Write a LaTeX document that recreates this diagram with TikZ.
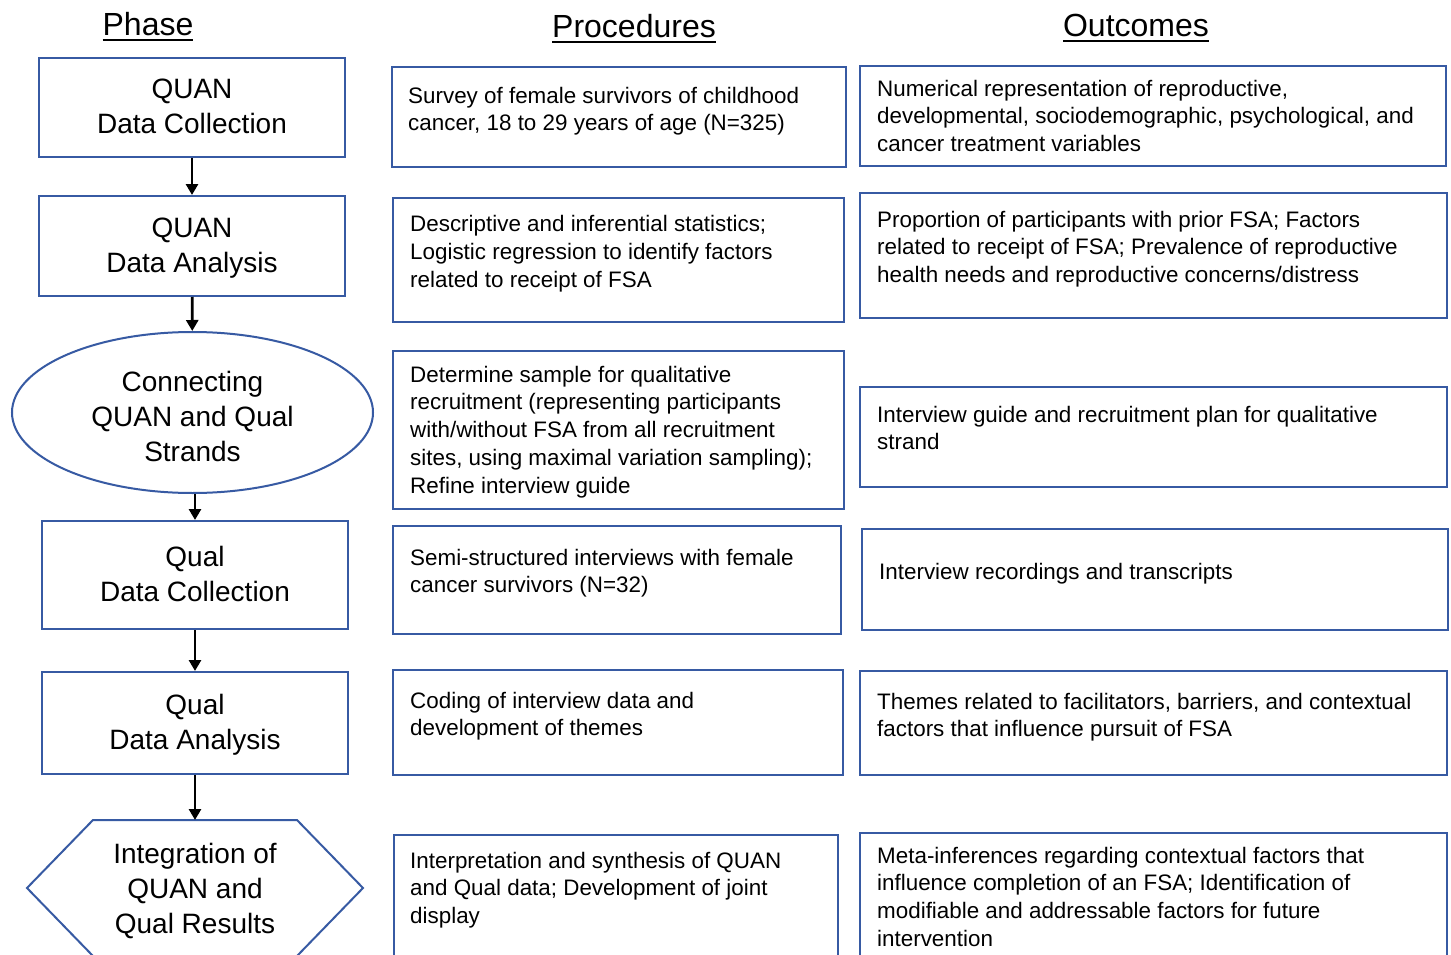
\documentclass[tikz,border=0pt]{standalone}
\usepackage{fontspec}
\setmainfont{Liberation Sans}
\usetikzlibrary{shapes.geometric,arrows.meta,calc}
\definecolor{boxblue}{RGB}{55,90,163}
\newcommand{\bodyfs}{\fontsize{22.4}{27.7}\selectfont}
\newcommand{\phasefs}{\fontsize{28}{35}\selectfont}
\newcommand{\headfs}{\fontsize{32}{38}\selectfont}
\newcommand{\tstrut}{\rule{0pt}{19.4pt}}
\newsavebox{\hulbox}
\newcommand{\hul}[1]{\sbox{\hulbox}{#1}\rlap{\raisebox{-5.3pt}{\rule{\wd\hulbox}{2pt}}}\usebox{\hulbox}}
\begin{document}
\begin{tikzpicture}[x=1pt,y=-1pt,
  box/.style={draw=boxblue,line width=2pt,rectangle,inner sep=0pt},
  ptxt/.style={font=\phasefs,align=center},
  btxt/.style={font=\bodyfs,align=left,inner sep=0pt,anchor=north west},
  head/.style={font=\headfs,inner sep=0pt,anchor=base},
  arr/.style={line width=2.8pt,-{Triangle[length=11pt,width=12pt]}}]
\clip (0,0) rectangle (1451,955);
\fill[white] (0,0) rectangle (1451,955);

% headers
\node[head] (hphase) at (148,35.5) {\hul{Phase}};
\node[head] (hproc) at (634,37.5) {\hul{Procedures}};
\node[head] (hout) at (1136,36.5) {\hul{Outcomes}};

% phase column
\node[box,minimum width=306pt,minimum height=99pt] (p1) at (192,107.5) {};
\node[ptxt] (p1t) at (192,106.5) {QUAN\\Data Collection};
\node[box,minimum width=306pt,minimum height=100pt] (p2) at (192,246) {};
\node[ptxt] (p2t) at (192,248) {QUAN\\Data Analysis};
\node[draw=boxblue,line width=2pt,ellipse,inner sep=0pt,minimum width=361pt,minimum height=161pt] (e) at (192.5,412.5) {};
\node[ptxt] (et) at (192.5,416.5) {Connecting\\QUAN and Qual\\Strands};
\node[box,minimum width=306pt,minimum height=108pt] (p4) at (195,575) {};
\node[ptxt] (p4t) at (195,574) {Qual\\Data Collection};
\node[box,minimum width=306pt,minimum height=102pt] (p5) at (195,723) {};
\node[ptxt] (p5t) at (195,725) {Qual\\Data Analysis};
\draw[draw=boxblue,line width=2pt] (93,820) -- (297,820) -- (363,888) -- (297,956) -- (93,956) -- (27,888) -- cycle;
\coordinate (hxtop) at (195,820);
\node[ptxt] (hx) at (195,891) {Integration of\\QUAN and\\Qual Results};

% arrows
\draw[arr] (p1) -- (p2);
\draw[arr] (p2) -- (e);
\draw[arr] (p4.north |- e.south) -- (p4.north);
\draw[arr] (p4) -- (p5);
\draw[arr] (p5) -- (hxtop);

% procedures
\node[box,minimum width=454pt,minimum height=100pt] (r1) at (619,117) {};
\node[box,minimum width=451pt,minimum height=124pt] (r2) at (618.5,260) {};
\node[box,minimum width=451pt,minimum height=158pt] (r3) at (618.5,430) {};
\node[box,minimum width=448pt,minimum height=108pt] (r4) at (617,580) {};
\node[box,minimum width=450pt,minimum height=105pt] (r5) at (618,722.5) {};
\node[box,minimum width=444pt,minimum height=140pt] (r6) at (616,905) {};

\node[btxt] (r1t) at (408,83.6) {\tstrut Survey of female survivors of childhood\\cancer, 18 to 29 years of age (N=325)};
\node[btxt] (r2t) at (410,212.1) {\tstrut Descriptive and inferential statistics;\\Logistic regression to identify factors\\related to receipt of FSA};
\node[btxt] (r3t) at (410,362.6) {\tstrut Determine sample for qualitative\\recruitment (representing participants\\with/without FSA from all recruitment\\sites, using maximal variation sampling);\\Refine interview guide};
\node[btxt] (r4t) at (410,545.6) {\tstrut Semi-structured interviews with female\\cancer survivors (N=32)};
\node[btxt] (r5t) at (410,688.6) {\tstrut Coding of interview data and\\development of themes};
\node[btxt] (r6t) at (410,848.6) {\tstrut Interpretation and synthesis of QUAN\\and Qual data; Development of joint\\display};

% outcomes
\node[box,minimum width=586pt,minimum height=100pt] (o1) at (1153,116) {};
\node[box,minimum width=587pt,minimum height=125pt] (o2) at (1153.5,255.5) {};
\node[box,minimum width=587pt,minimum height=100pt] (o3) at (1153.5,437) {};
\node[box,minimum width=586pt,minimum height=101pt] (o4) at (1155,579.5) {};
\node[box,minimum width=587pt,minimum height=104pt] (o5) at (1153.5,723) {};
\node[box,minimum width=587pt,minimum height=142pt] (o6) at (1153.5,904) {};

\node[btxt] (o1t) at (877,76.6) {\tstrut Numerical representation of reproductive,\\developmental, sociodemographic, psychological, and\\cancer treatment variables};
\node[btxt] (o2t) at (877,207.6) {\tstrut Proportion of participants with prior FSA; Factors\\related to receipt of FSA; Prevalence of reproductive\\health needs and reproductive concerns/distress};
\node[btxt] (o3t) at (877,402.6) {\tstrut Interview guide and recruitment plan for qualitative\\strand};
\node[btxt] (o4t) at (879,559.6) {\tstrut Interview recordings and transcripts};
\node[btxt] (o5t) at (877,689.6) {\tstrut Themes related to facilitators, barriers, and contextual\\factors that influence pursuit of FSA};
\node[btxt] (o6t) at (877,843.6) {\tstrut Meta-inferences regarding contextual factors that\\influence completion of an FSA; Identification of\\modifiable and addressable factors for future\\intervention};
\end{tikzpicture}
\end{document}
